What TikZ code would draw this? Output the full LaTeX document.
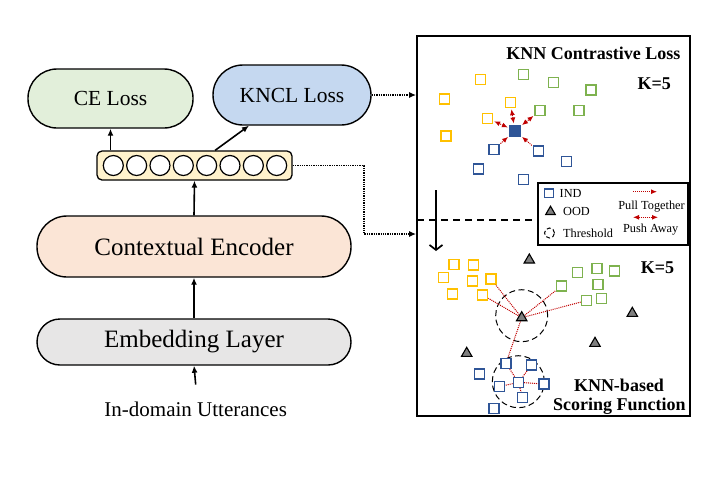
\documentclass[tikz,border=0pt]{standalone}
\usepackage{fontspec}
\setmainfont{Liberation Serif}
\usetikzlibrary{arrows.meta,shapes.geometric,calc}
\definecolor{ceg}{HTML}{E2EFDA}
\definecolor{knb}{HTML}{C5D8F0}
\definecolor{encp}{HTML}{FBE5D6}
\definecolor{embg}{HTML}{E7E6E6}
\definecolor{vyel}{HTML}{FFF2CC}
\definecolor{ygold}{HTML}{FFC000}
\definecolor{ggreen}{HTML}{7EB24F}
\definecolor{bblue}{HTML}{2F5597}
\definecolor{redc}{HTML}{C00000}
\definecolor{tgray}{HTML}{7F7F7F}
\begin{document}
\begin{tikzpicture}[x=1pt,y=-1pt,
  pill/.style={draw, line width=1.4pt, inner sep=0pt},
  ar/.style={-{Latex[length=7pt,width=6pt]}, line width=1.6pt},
  dar/.style={-{Latex[length=7pt,width=6pt]}, line width=1.3pt, densely dotted},
  sq/.style={draw, line width=1.4pt, minimum size=10pt, inner sep=0pt, fill=white},
  ysq/.style={sq, draw=ygold},
  gsq/.style={sq, draw=ggreen},
  bsq/.style={sq, draw=bblue},
  ood/.style={regular polygon, regular polygon sides=3, draw=black, fill=tgray, line width=1.1pt, minimum size=12pt, inner sep=0pt},
  thr/.style={circle, draw, dash pattern=on 6pt off 3.5pt, line width=1pt, minimum size=52pt, inner sep=0pt},
  rl/.style={draw=redc, densely dotted, line width=1pt},
  pull/.style={rl, -{Latex[length=6pt,width=5pt]}, shorten <=1pt, shorten >=1pt},
  push/.style={rl, {Latex[length=6pt,width=5pt]}-{Latex[length=6pt,width=5pt]}, shorten <=1pt, shorten >=1pt},
  big/.style={font=\fontsize{25}{28}\selectfont},
  mid/.style={font=\fontsize{21.5}{24}\selectfont},
  ttl/.style={font=\fontsize{18}{20}\selectfont\bfseries, inner sep=0pt},
  lgt/.style={font=\fontsize{12.3}{14}\selectfont, inner sep=0pt},
]
\useasboundingbox (0,0) rectangle (720,483);

% ---------- left column ----------
\node[pill, fill=ceg, rounded corners=29pt, minimum width=165pt, minimum height=59pt, mid] (ce) at (110.5,98.5) {CE Loss};
\node[pill, fill=knb, rounded corners=30pt, minimum width=158pt, minimum height=60pt, mid] (kncl) at (292,95) {KNCL Loss};
\node[draw, line width=1.3pt, rounded corners=5pt, fill=vyel, minimum width=195pt, minimum height=29pt, inner sep=0pt] (vec) at (194.5,165.5) {};
\foreach \i in {0,...,7}
  \node[circle, draw, line width=1.2pt, fill=white, minimum size=20pt, inner sep=0pt] (c\i) at ({113.3+23.34*\i},165.5) {};
\node[pill, fill=encp, rounded corners=30pt, minimum width=314pt, minimum height=61pt, big] (enc) at (194,246.5) {Contextual Encoder};
\node[pill, fill=embg, rounded corners=23pt, minimum width=314pt, minimum height=46pt, big] (emb) at (194,342) {Embedding Layer};
\node[font=\fontsize{21}{24}\selectfont, anchor=base] (utt) at (195.7,416.7) {In-domain Utterances};

\draw[ar] (vec.north -| ce) -- (ce.south);
\draw[ar] ($(vec.north west)!0.605!(vec.north east)$) -- ($(kncl.south west)!0.23!(kncl.south east)$);
\draw[ar] (enc.north) -- (vec.south);
\draw[ar] (emb.north) -- (enc.south);
\draw[ar] ([yshift=14pt]utt.north) -- (emb.south);

% ---------- right panel ----------
\node[draw, line width=1.8pt, minimum width=273pt, minimum height=380pt, inner sep=0pt] (panel) at (553.5,226) {};
\draw[dar] (kncl.east) -- (kncl.east -| panel.west);
\coordinate (bend) at (364,234);
\draw[dar] (vec.east) -| (bend) -- (bend -| panel.west);

\node[ttl] (t1) at (593.3,53.3) {KNN Contrastive Loss};
\node[ttl] (k1) at (654.3,83.3) {K=5};
\node[ttl] (k2) at (657.5,267.3) {K=5};
\node[ttl] (t2) at (619,385.7) {KNN-based};
\node[ttl] (t3) at (619.3,406.7) {Scoring Function};

% top cluster
\node[ysq] (ty1) at (480.5,79.5) {};
\node[ysq] (ty2) at (444.3,99) {};
\node[ysq] (ty3) at (510.3,102.5) {};
\node[ysq] (ty4) at (487.5,118.3) {};
\node[ysq] (ty5) at (446,136) {};
\node[gsq] (tg1) at (523.3,74.3) {};
\node[gsq] (tg2) at (553.3,82.7) {};
\node[gsq] (tg3) at (591,90) {};
\node[gsq] (tg4) at (540,110.7) {};
\node[gsq] (tg5) at (579,110.7) {};
\node[bsq, fill=bblue, minimum size=11pt] (tc) at (515,130.7) {};
\node[bsq] (tb1) at (494,149.3) {};
\node[bsq] (tb2) at (538.3,151) {};
\node[bsq] (tb3) at (566.7,161.7) {};
\node[bsq] (tb4) at (478.3,169) {};
\node[bsq] (tb5) at (523.3,179.3) {};
\draw[push] (tc) -- (ty4);
\draw[push] (tc) -- (ty3);
\draw[push] (tc) -- (tg4);
\draw[pull] (tb1) -- (tc);
\draw[pull] (tb2) -- (tc);

% legend
\node[draw, line width=1.8pt, fill=white, minimum width=150pt, minimum height=62pt, inner sep=0pt] (lg) at (613,214) {};
\node[bsq, minimum size=8.5pt] (lsq) at (549,193.3) {};
\node[lgt, anchor=west] (lind) at (559.5,193.3) {IND};
\node[ood, minimum size=11pt] (ltri) at (550.5,211.7) {};
\node[lgt, anchor=west] (lood) at (563,211.7) {OOD};
\node[circle, draw, dash pattern=on 4pt off 2.5pt, line width=1pt, minimum size=10pt, inner sep=0pt] (lcir) at (549.5,233) {};
\node[lgt, anchor=west] (lthr) at (563,233.5) {Threshold};
\coordinate (pa) at (633,191.7);
\coordinate (pb) at (657,191.7);
\draw[rl, -{Latex[length=6pt,width=5pt]}] (pa) -- (pb);
\node[lgt] (lpull) at (651.5,206.7) {Pull Together};
\coordinate (qa) at (633,217.3);
\coordinate (qb) at (658,217.3);
\draw[rl, {Latex[length=6pt,width=5pt]}-{Latex[length=6pt,width=5pt]}] (qa) -- (qb);
\node[lgt] (lpush) at (650.7,230) {Push Away};

% divider and arrow
\coordinate (dl) at (417,220);
\draw[dash pattern=on 7pt off 5pt, line width=1.7pt] (dl) -- (dl -| lg.west);
\coordinate (dtop) at (436,190);
\coordinate (dbot) at (436,251);
\draw[line width=1.7pt, -{Straight Barb[length=5pt,width=13pt]}] (dtop) -- (dbot);

% bottom cluster
\node[thr] (th1) at (521.7,315.7) {};
\node[thr] (th2) at (518.3,381.7) {};
\node[ysq] (by1) at (454,264.3) {};
\node[ysq] (by2) at (473.3,265) {};
\node[ysq] (by3) at (443.3,277.3) {};
\node[ysq] (by4) at (472.3,281) {};
\node[ysq] (by5) at (491,279) {};
\node[ysq] (by6) at (452.3,294) {};
\node[ysq] (by7) at (482.7,295) {};
\node[gsq] (bg1) at (577.3,272.3) {};
\node[gsq] (bg2) at (597,268.5) {};
\node[gsq] (bg3) at (614.3,270.8) {};
\node[gsq] (bg4) at (561.7,285.8) {};
\node[gsq] (bg5) at (598,284.2) {};
\node[gsq] (bg6) at (586.7,300.5) {};
\node[gsq] (bg7) at (601.7,298.7) {};
\node[bsq] (bb1) at (506,363.3) {};
\node[bsq] (bb2) at (531.7,365) {};
\node[bsq] (bb3) at (479.3,374) {};
\node[bsq] (bb4) at (518.3,382.3) {};
\node[bsq] (bb5) at (499.3,386.7) {};
\node[bsq] (bb6) at (544,384) {};
\node[bsq] (bb7) at (522.7,397.7) {};
\node[bsq] (bb8) at (494,408.3) {};
\node[ood] (bo1) at (529.3,260) {};
\node[ood] (bo3) at (632.3,313.3) {};
\node[ood] (bo4) at (595,343.3) {};
\node[ood] (bo5) at (466.7,353.3) {};
\coordinate (boc) at (521.7,317.7);
\foreach \t in {by5,by7,bg4,bg6,bb1}
  \draw[rl] (boc) -- (\t);
\foreach \t in {bb1,bb2,bb5,bb6,bb7}
  \draw[rl] (bb4) -- (\t);
\node[ood] (bo) at (boc) {};
\end{tikzpicture}
\end{document}
